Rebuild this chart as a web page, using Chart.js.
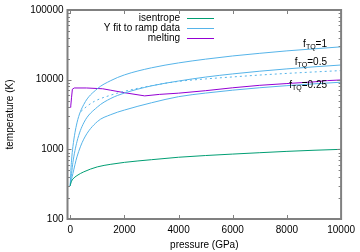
<!DOCTYPE html>
<html>
<head>
<meta charset="utf-8">
<script src="https://cdn.jsdelivr.net/npm/chart.js@4.4.1/dist/chart.umd.min.js"></script>
<style>
  html, body { margin: 0; padding: 0; background: #fff; }
</style>
</head>
<body>
<canvas id="chart" width="360" height="252"></canvas>
<script>
// pressure grid (GPa) for the isentrope and the Y fits
const pressure = [0, 25, 50, 100, 250, 500, 1000, 1500, 2000, 3000, 4000, 5000, 6000, 7000, 8000, 9000, 10000];
const isentrope = [300, 330, 350, 375, 420, 475, 560, 610, 650, 710, 770, 815, 855, 895, 935, 970, 1000];
const fitF1 = [300, 500, 700, 1100, 2400, 4400, 7400, 9700, 11700, 14800, 17400, 19700, 21900, 23900, 25900, 27700, 29600];
const fitF05 = [300, 380, 450, 650, 1290, 2400, 4040, 5380, 6420, 8150, 9560, 10900, 12100, 13230, 14280, 15280, 16230];
const fitF025 = [300, 340, 370, 450, 780, 1400, 2500, 3150, 3660, 4660, 5700, 6420, 7070, 7660, 8200, 8710, 9200];

// dotted fit curve
const dottedP = [400, 600, 900, 1500, 2000, 3000, 4000, 5000, 6000, 7000, 8000, 9000, 10000];
const dottedT = [3500, 4100, 4900, 6000, 6800, 8200, 9450, 10250, 10950, 11650, 12300, 12900, 13500];

// melting curve
const meltP = [0, 20, 50, 80, 150, 600, 1200, 1500, 2000, 2750, 3300, 4000, 5000, 6000, 7000, 8000, 9000, 9500, 10000];
const meltT = [4000, 4200, 5600, 7300, 7600, 7600, 7400, 7050, 6500, 5850, 6150, 6400, 6950, 7650, 8300, 8800, 9300, 9700, 9900];

// axis ticks
const xTicks = [0, 2000, 4000, 6000, 8000, 10000];
const yTicks = [100, 1000, 10000, 100000];

// f_TQ curve labels (right edge, baseline) in data units
const tqText = ['1', '0.5', '0.25'];
const tqP = [9480, 9480, 9480];
const tqT = [28970, 16250, 7480];

const green = '#009e73';
const blue = '#56b4e9';
const purple = '#9400d3';
const FONT = '"Liberation Sans", Arial, sans-serif';

const pts = (xs, ys) => xs.map((v, i) => ({ x: v, y: ys[i] }));

const legendEntries = [
  { text: 'isentrope', color: green },
  { text: 'Y fit to ramp data', color: blue },
  { text: 'melting', color: purple }
];

const frame = {
  id: 'frame',
  afterDatasetsDraw(chart) {
    const { ctx, chartArea: a, scales: { x, y } } = chart;
    ctx.save();
    ctx.strokeStyle = '#808080';
    ctx.lineWidth = 1;
    ctx.beginPath();
    xTicks.forEach(v => {
      const px = Math.round(x.getPixelForValue(v)) + 0.5;
      ctx.moveTo(px, a.bottom); ctx.lineTo(px, a.bottom - 4);
      ctx.moveTo(px, a.top); ctx.lineTo(px, a.top + 4);
    });
    for (let d = 100; d < 100000; d *= 10) {
      for (let m = 1; m <= 9; m++) {
        const py = Math.round(y.getPixelForValue(d * m)) + 0.5;
        const len = m === 1 ? 4 : 2.5;
        ctx.moveTo(a.left, py); ctx.lineTo(a.left + len, py);
        ctx.moveTo(a.right, py); ctx.lineTo(a.right - len, py);
      }
    }
    ctx.stroke();
    ctx.lineWidth = 2;
    ctx.strokeRect(a.left, a.top, a.right - a.left, a.bottom - a.top);

    // legend
    ctx.font = '10px ' + FONT;
    ctx.fillStyle = '#000';
    ctx.textAlign = 'right';
    ctx.textBaseline = 'middle';
    legendEntries.forEach((e, i) => {
      const ly = 18.5 + i * 10;
      ctx.fillText(e.text, 180, ly);
      ctx.strokeStyle = e.color;
      ctx.lineWidth = 1;
      ctx.beginPath();
      ctx.moveTo(187, ly); ctx.lineTo(214, ly);
      ctx.stroke();
    });

    // f_TQ labels
    ctx.textAlign = 'left';
    ctx.textBaseline = 'alphabetic';
    tqText.forEach((t, i) => {
      const xr = x.getPixelForValue(tqP[i]);
      const yb = y.getPixelForValue(tqT[i]);
      ctx.font = '10px ' + FONT;
      const wf = ctx.measureText('f').width;
      const wr = ctx.measureText('=' + t).width;
      ctx.font = '7px ' + FONT;
      const ws = ctx.measureText('TQ').width;
      let x0 = xr - wf - ws - wr;
      ctx.font = '10px ' + FONT;
      ctx.fillText('f', x0, yb);
      ctx.font = '7px ' + FONT;
      ctx.fillText('TQ', x0 + wf, yb + 2);
      ctx.font = '10px ' + FONT;
      ctx.fillText('=' + t, x0 + wf + ws, yb);
    });
    ctx.restore();
  }
};

const line = (data, color, extra) => Object.assign({
  data, borderColor: color, borderWidth: 1, pointRadius: 0,
  fill: false, cubicInterpolationMode: 'monotone'
}, extra || {});

new Chart(document.getElementById('chart'), {
  type: 'line',
  data: {
    datasets: [
      line(pts(pressure, isentrope), green, { label: 'isentrope' }),
      line(pts(pressure, fitF1), blue, { label: 'Y fit to ramp data' }),
      line(pts(pressure, fitF05), blue),
      line(pts(pressure, fitF025), blue),
      line(pts(dottedP, dottedT), blue, { borderDash: [2, 3] }),
      line(pts(meltP, meltT), purple, { label: 'melting', cubicInterpolationMode: 'default', tension: 0 })
    ]
  },
  options: {
    responsive: false,
    animation: false,
    devicePixelRatio: 1,
    layout: { padding: { left: 0, right: 18.5, top: 10, bottom: 0 } },
    plugins: { legend: { display: false }, tooltip: { enabled: false } },
    scales: {
      x: {
        type: 'linear',
        min: -100,
        max: 10000,
        afterBuildTicks: s => { s.ticks = xTicks.map(v => ({ value: v })); },
        afterFit: s => { s.height = 33; },
        grid: { display: false, drawTicks: false },
        border: { display: false },
        ticks: { color: '#000', font: { family: FONT, size: 10 }, padding: 5, maxRotation: 0, callback: v => String(v) },
        title: { display: true, text: 'pressure (GPa)', color: '#000', font: { family: FONT, size: 10 }, padding: { top: 0, bottom: 1 } }
      },
      y: {
        type: 'logarithmic',
        min: 100,
        max: 100000,
        afterBuildTicks: s => { s.ticks = yTicks.map(v => ({ value: v })); },
        afterFit: s => { s.width = 67.5; },
        grid: { display: false, drawTicks: false },
        border: { display: false },
        ticks: { color: '#000', font: { family: FONT, size: 10 }, padding: 4, callback: v => String(v) },
        title: { display: true, text: 'temperature (K)', color: '#000', font: { family: FONT, size: 10 }, padding: { top: 4, bottom: 0 } }
      }
    }
  },
  plugins: [frame]
});
</script>
</body>
</html>
